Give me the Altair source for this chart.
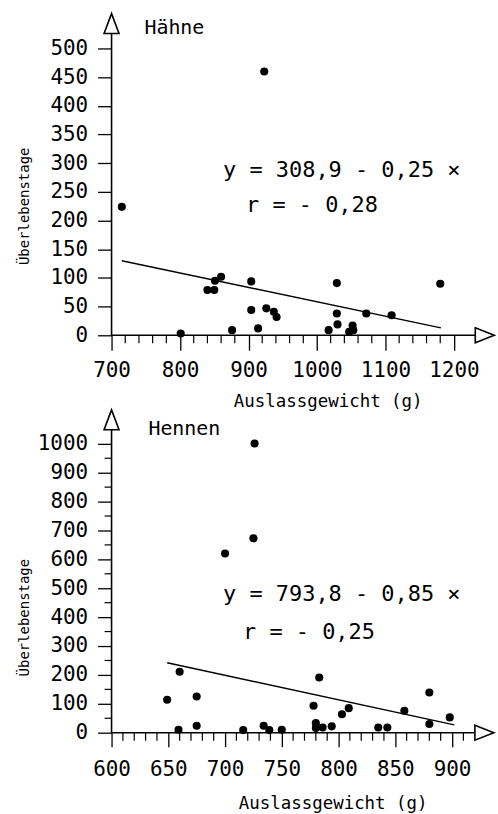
import altair as alt
import pandas as pd

FONT = "DejaVu Sans Mono"

# ---------------- Hähne ----------------
h_x = [715, 801, 840, 850, 851, 860, 876, 904, 904, 914, 926, 937, 941, 923,
       1017, 1029, 1029, 1030, 1047, 1052, 1053, 1072, 1109, 1180]
h_y = [224, 3, 79, 79, 95, 102, 9, 94, 44, 12, 47, 41, 32, 460,
       9, 91, 38, 19, 6, 17, 9, 38, 35, 90]
h_line_x = [715, 1181]
h_line_y = [130, 13]
h_xticks = [700, 800, 900, 1000, 1100, 1200]
h_yticks = [0, 50, 100, 150, 200, 250, 300, 350, 400, 450, 500]
h_xminor = [v for v in range(720, 1200, 20) if v % 100 != 0]
h_yminor = []
h_eq = "y = 308,9 - 0,25 ×"
h_r = "r = - 0,28"

# ---------------- Hennen ----------------
n_x = [726, 725, 700, 649, 659, 660, 675, 675, 716, 734, 739, 750, 778, 780,
       780, 783, 786, 794, 803, 809, 835, 843, 858, 880, 880, 898]
n_y = [1001, 673, 620, 114, 10, 211, 125, 24, 9, 24, 9, 10, 93, 33,
       16, 191, 18, 22, 64, 85, 18, 18, 76, 30, 139, 53]
n_line_x = [649, 902]
n_line_y = [242, 27]
n_xticks = [600, 650, 700, 750, 800, 850, 900]
n_yticks = [0, 100, 200, 300, 400, 500, 600, 700, 800, 900, 1000]
n_xminor = [v for v in range(610, 920, 10) if v % 50 != 0]
n_yminor = [v for v in range(50, 1050, 100)]
n_eq = "y = 793,8 - 0,85 ×"
n_r = "r = - 0,25"

X_TITLE = "Auslassgewicht (g)"
Y_TITLE = "Überlebenstage"

RIGHT_ARROW = "M-1,-0.79L1,0L-1,0.79Z"
UP_ARROW = "M0,-1L0.75,1L-0.75,1Z"


def panel(px, py, lx, ly, xticks, yticks, xminor, yminor, xdom, ydom, w, h,
          xend, yend, xarrow, yarrow, name, eq, rtxt, pos, xtick, xpad,
          xtitle_x, xtitle_y, ytitle_y):
    X = alt.X("x:Q", scale=alt.Scale(domain=xdom, nice=False, zero=False),
              axis=alt.Axis(values=xticks, title=X_TITLE, tickSize=xtick,
                            format="d", labelFlush=False, labelOverlap=False,
                            labelPadding=xpad, titleX=xtitle_x, titleY=xtitle_y,
                            titleAlign="center", titleBaseline="top"))
    Y = alt.Y("y:Q", scale=alt.Scale(domain=ydom, nice=False, zero=False),
              axis=alt.Axis(values=yticks, title=Y_TITLE, tickSize=14,
                            format="d", labelFlush=False, labelOverlap=False,
                            labelPadding=10, titleX=-87, titleY=ytitle_y,
                            titleAngle=270, titleAlign="center",
                            titleBaseline="middle"))

    pts = pd.DataFrame({"x": px, "y": py})
    line = pd.DataFrame({"x": lx, "y": ly})

    layers = []
    layers.append(alt.Chart(pts).mark_circle(size=66, color="black", opacity=1)
                  .encode(x=X, y=Y))
    layers.append(alt.Chart(line).mark_line(color="black", strokeWidth=1.4)
                  .encode(x=X, y=Y))
    # axis lines
    layers.append(alt.Chart(pd.DataFrame({"x": [xdom[0]], "x2": [xend], "y": [0]}))
                  .mark_rule(color="black", strokeWidth=1.6)
                  .encode(x=X, x2="x2:Q", y=Y))
    layers.append(alt.Chart(pd.DataFrame({"x": [xdom[0]], "y": [0], "y2": [yend]}))
                  .mark_rule(color="black", strokeWidth=1.6)
                  .encode(x=X, y=Y, y2="y2:Q"))
    # minor ticks
    layers.append(alt.Chart(pd.DataFrame({"x": xminor}))
                  .mark_rule(color="black", strokeWidth=1.2)
                  .encode(x=X, y=alt.value(h), y2=alt.value(h + 8)))
    if yminor:
        layers.append(alt.Chart(pd.DataFrame({"y": yminor}))
                      .mark_rule(color="black", strokeWidth=1.2)
                      .encode(y=Y, x=alt.value(-7), x2=alt.value(0)))
    # arrows
    layers.append(alt.Chart(pd.DataFrame({"x": [xarrow], "y": [0]}))
                  .mark_point(shape=RIGHT_ARROW, size=361, filled=True,
                              fill="white", stroke="black", strokeWidth=1.6,
                              opacity=1)
                  .encode(x=X, y=Y))
    layers.append(alt.Chart(pd.DataFrame({"x": [xdom[0]], "y": [yarrow]}))
                  .mark_point(shape=UP_ARROW, size=400, filled=True,
                              fill="white", stroke="black", strokeWidth=1.6,
                              opacity=1)
                  .encode(x=X, y=Y))
    # texts
    for txt, (tx, ty, fs) in zip([name, eq, rtxt], pos):
        layers.append(alt.Chart(pd.DataFrame({"t": [txt]}))
                      .mark_text(font=FONT, fontSize=fs, color="black",
                                 align="left", baseline="alphabetic")
                      .encode(text="t:N", x=alt.value(tx), y=alt.value(ty)))
    return alt.layer(*layers).properties(width=w, height=h)


top = panel(h_x, h_y, h_line_x, h_line_y, h_xticks, h_yticks, h_xminor, h_yminor,
            [700, 1260], [0, 561], 385, 323, 1231, 526, 1245, 543.6,
            "Hähne", h_eq, h_r,
            [(33, 20, 20), (112, 164, 22), (135, 199, 22)],
            15, 9, 217, 58, 193)

bottom = panel(n_x, n_y, n_line_x, n_line_y, n_xticks, n_yticks, n_xminor, n_yminor,
               [600, 937], [0, 1117], 384, 324, 920, 1048, 928.5, 1083,
               "Hennen", n_eq, n_r,
               [(37, 25, 20), (112, 192, 22), (132, 230, 22)],
               14, 12, 222, 62, 208)

chart = alt.vconcat(top, bottom, spacing=75, bounds="flush").properties(
    padding={"left": 18, "top": 8, "right": 0, "bottom": 0},
    background="white",
).configure_view(stroke=None).configure_axis(
    grid=False, domain=False, ticks=True, tickColor="black", tickWidth=1.3,
    labelFont=FONT, labelFontSize=21, labelColor="black",
    titleFont=FONT, titleFontWeight="normal", titleColor="black",
).configure_axisX(titleFontSize=17.5).configure_axisY(titleFontSize=14)

chart.save("out.html", embed_options={"renderer": "svg", "actions": False})
